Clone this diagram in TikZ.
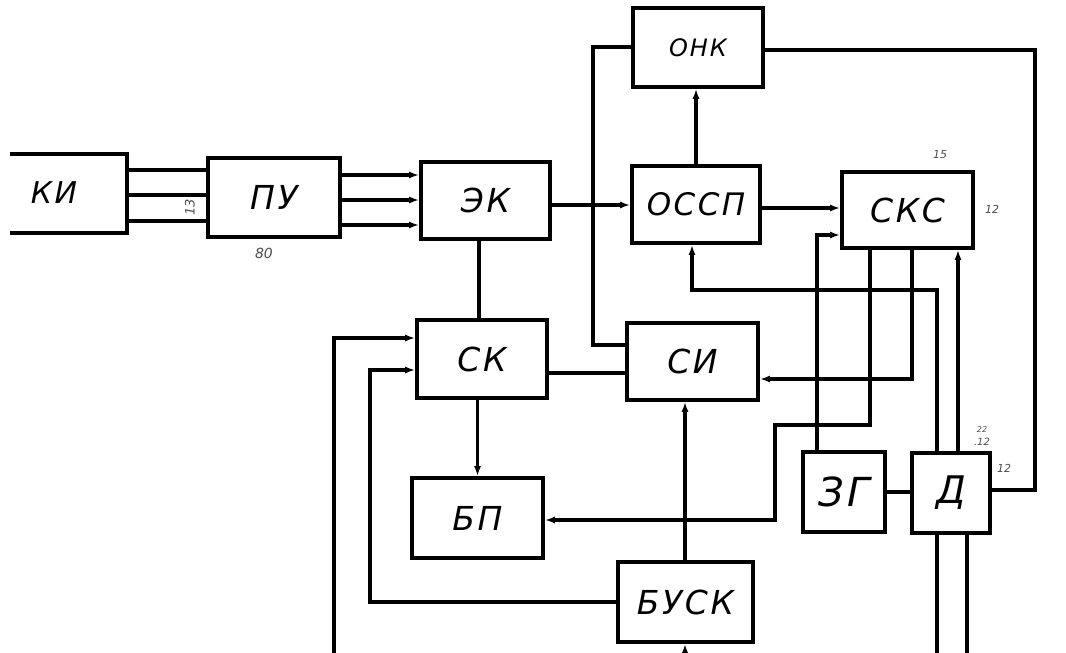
\documentclass[tikz,border=0pt]{standalone}
\usepackage{fontspec}
\newfontfamily\gost[LetterSpace=8]{DejaVu Sans}
\newfontfamily\hand{DejaVu Sans}
\usetikzlibrary{arrows.meta}
\begin{document}
\begin{tikzpicture}[x=1pt,y=-1pt,
  blk/.style={draw, line width=3.6pt, minimum width=#1, inner sep=0pt, font=\gost\itshape\fontsize{33}{33}\selectfont},
  ln/.style={line width=3.2pt},
  arr/.style={line width=3.2pt, -{Latex[length=10pt,width=7pt]}},
  note/.style={font=\hand\itshape\fontsize{11}{11}\selectfont, text=black!70}]
\useasboundingbox (0,0) rectangle (1066,653);
\fill[white] (0,0) rectangle (1066,653);
% blocks
\node[minimum width=117pt, minimum height=79pt, inner sep=0pt] (ki) at (68.5,193.5) {};
\draw[line width=3.6pt] (ki.north west) -- (ki.north east) -- (ki.south east) -- (ki.south west);
\node[font=\gost\itshape\fontsize{30}{30}\selectfont] (kilabel) at (54,193) {КИ};
\node[blk=132pt, minimum height=79pt] (pu) at (274,197.5) {ПУ};
\node[blk=129pt, minimum height=77pt] (ek) at (485.5,200.5) {ЭК};
\node[blk=130pt, minimum height=79pt, font=\gost\itshape\fontsize{24}{24}\selectfont] (onk) at (698,47.5) {ОНК};
\node[blk=128pt, minimum height=77pt, font=\gost\itshape\fontsize{31}{31}\selectfont] (ossp) at (696,204.5) {ОССП};
\node[blk=131pt, minimum height=76pt] (sks) at (907.5,210) {СКС};
\node[blk=130pt, minimum height=78pt] (sk) at (482,359) {СК};
\node[blk=131pt, minimum height=77pt] (si) at (692.5,361.5) {СИ};
\node[blk=131pt, minimum height=80pt] (bp) at (477.5,518) {БП};
\node[blk=135pt, minimum height=80pt, font=\gost\itshape\fontsize{33}{33}\selectfont] (busk) at (685.5,602) {БУСК};
\node[blk=82pt, minimum height=80pt, font=\gost\itshape\fontsize{40}{40}\selectfont] (zg) at (844,492) {ЗГ};
\node[blk=78pt, minimum height=80pt, font=\gost\itshape\fontsize{38}{38}\selectfont] (d) at (951,493) {Д};
% bend points
\coordinate (y170) at (0,170); \coordinate (y195) at (0,195); \coordinate (y221) at (0,221);
\coordinate (y175) at (0,175); \coordinate (y200) at (0,200); \coordinate (y225) at (0,225);
\coordinate (y205) at (0,205); \coordinate (y208) at (0,208);
\coordinate (a1) at (593,47); \coordinate (a2) at (593,345);
\coordinate (b1) at (1035,50); \coordinate (b2) at (1035,490);
\coordinate (c1) at (817,235);
\coordinate (s1) at (870,425); \coordinate (s2) at (775,425); \coordinate (s3) at (775,520);
\coordinate (s4) at (912,379);
\coordinate (p1) at (937,290); \coordinate (p2) at (692,290);
\coordinate (q1) at (958,0);
\coordinate (e1) at (937,653); \coordinate (e2) at (967,653);
\coordinate (k1) at (479,0);
\coordinate (k2) at (600,373);
\coordinate (l1) at (334,653); \coordinate (l2) at (334,338);
\coordinate (m1) at (370,602); \coordinate (m2) at (370,370);
\coordinate (n1) at (685,0);
\coordinate (n2) at (685,653);
% connectors
\draw[ln] (ki.east |- y170) -- (pu.west |- y170);
\draw[ln] (ki.east |- y195) -- (pu.west |- y195);
\draw[ln] (ki.east |- y221) -- (pu.west |- y221);
\draw[arr] (pu.east |- y175) -- (ek.west |- y175);
\draw[arr] (pu.east |- y200) -- (ek.west |- y200);
\draw[arr] (pu.east |- y225) -- (ek.west |- y225);
\draw[arr] (ek.east |- y205) -- (ossp.west |- y205);
\draw[ln] (onk.west |- a1) -- (a1) -- (a2) -- (si.west |- a2);
\draw[arr] (ossp.north) -- (ossp.north |- onk.south);
\draw[arr] (ossp.east |- y208) -- (sks.west |- y208);
\draw[ln] (onk.east |- b1) -- (b1) -- (b2) -- (d.east |- b2);
\draw[arr] (zg.north -| c1) -- (c1) -- (sks.west |- c1);
\draw[arr] (sks.south -| s1) -- (s1) -- (s2) -- (s3) -- (bp.east |- s3);
\draw[arr] (sks.south -| s4) -- (s4) -- (si.east |- s4);
\draw[arr] (d.north -| p1) -- (p1) -- (p2) -- (ossp.south -| p2);
\draw[arr] (d.north -| q1) -- (sks.south -| q1);
\draw[ln] (d.south -| e1) -- (e1);
\draw[ln] (d.south -| e2) -- (e2);
\draw[ln] (zg.east) -- (zg.east -| d.west);
\draw[ln] (ek.south -| k1) -- (sk.north -| k1);
\draw[ln] (sk.east |- k2) -- (si.west |- k2);
\draw[arr] (bp.north |- sk.south) -- (bp.north);
\draw[arr] (l1) -- (l2) -- (sk.west |- l2);
\draw[arr] (busk.west) -- (m1) -- (m2) -- (sk.west |- m2);
\draw[arr] (busk.north -| n1) -- (si.south -| n1);
\draw[arr] (n2) -- (busk.south -| n2);
% handwritten notes
\node[note, rotate=90, font=\hand\itshape\fontsize{13}{13}\selectfont] (n13) at (190,207) {13};
\node[note, font=\hand\itshape\fontsize{14}{14}\selectfont] (n80) at (264,253) {80};
\node[note] (n15) at (940,155) {15};
\node[note] (n12a) at (992,209) {12};
\node[note, font=\hand\itshape\fontsize{8}{8}\selectfont] (n22) at (982,430) {22};
\node[note, font=\hand\itshape\fontsize{10}{10}\selectfont] (n12b) at (982,442) {.12};
\node[note] (n12c) at (1004,468) {12};
\end{tikzpicture}
\end{document}
